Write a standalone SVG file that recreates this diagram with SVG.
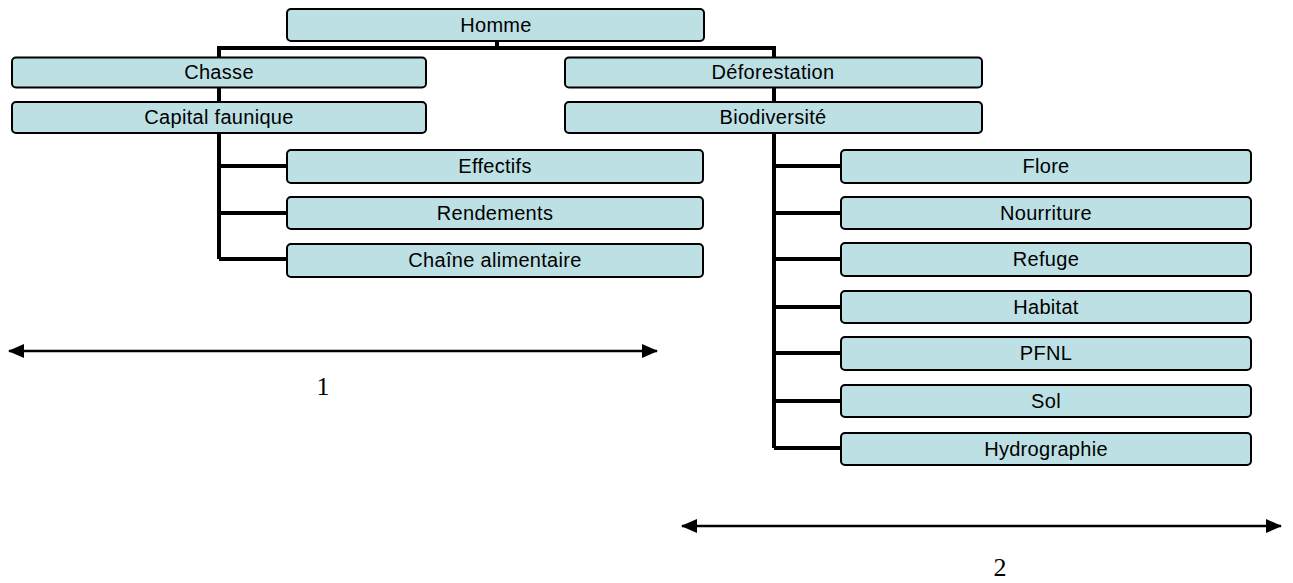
<svg xmlns="http://www.w3.org/2000/svg" width="1293" height="583" viewBox="0 0 1293 583">
<style>
.box{fill:#BCE0E4;stroke:#000;stroke-width:2}
.lbl{font-family:"Liberation Sans",Arial,sans-serif;font-size:20px;letter-spacing:0.3px;fill:#000;text-anchor:middle}
.con{stroke:#000;stroke-width:4;fill:none}
.arr{stroke:#000;stroke-width:2.5;fill:none}
.num{font-family:"Liberation Serif","Times New Roman",serif;font-size:26px;fill:#000;text-anchor:middle}
</style>
<defs>
<marker id="ah" viewBox="0 0 16 14" refX="15" refY="7" markerWidth="16" markerHeight="14" markerUnits="userSpaceOnUse" orient="auto-start-reverse">
<path d="M0,0 L16,7 L0,14 Z" fill="#000"/>
</marker>
</defs>
<g id="connectors">
<path class="con" d="M497,41 V48 M217,48 H776 M219,48 V259 M219,166 H288 M219,213 H288 M219,259 H288"/>
<path class="con" d="M774,48 V448 M774,166 H842 M774,213 H842 M774,259 H842 M774,307 H842 M774,353 H842 M774,401 H842 M774,448 H842"/>
<line class="arr" x1="9" y1="351" x2="657" y2="351" marker-start="url(#ah)" marker-end="url(#ah)"/>
<line class="arr" x1="682" y1="526" x2="1281" y2="526" marker-start="url(#ah)" marker-end="url(#ah)"/>
</g>
<g id="homme"><rect class="box" x="287" y="9" width="417" height="32" rx="4"/><text class="lbl" x="496" y="32">Homme</text></g>
<g id="chasse"><rect class="box" x="12" y="57.5" width="414" height="30" rx="4"/><text class="lbl" x="219" y="79">Chasse</text></g>
<g id="capital"><rect class="box" x="12" y="102" width="414" height="31" rx="4"/><text class="lbl" x="219" y="124">Capital faunique</text></g>
<g id="deforestation"><rect class="box" x="565" y="57.5" width="417" height="30" rx="4"/><text class="lbl" x="773" y="79">Déforestation</text></g>
<g id="biodiversite"><rect class="box" x="565" y="102" width="417" height="31" rx="4"/><text class="lbl" x="773" y="124">Biodiversité</text></g>
<g id="effectifs"><rect class="box" x="287" y="150" width="416" height="33" rx="4"/><text class="lbl" x="495" y="173">Effectifs</text></g>
<g id="rendements"><rect class="box" x="287" y="197" width="416" height="32" rx="4"/><text class="lbl" x="495" y="220">Rendements</text></g>
<g id="chaine"><rect class="box" x="287" y="244" width="416" height="33" rx="4"/><text class="lbl" x="495" y="267">Chaîne alimentaire</text></g>
<g id="flore"><rect class="box" x="841" y="150" width="410" height="33" rx="4"/><text class="lbl" x="1046" y="173">Flore</text></g>
<g id="nourriture"><rect class="box" x="841" y="197" width="410" height="32" rx="4"/><text class="lbl" x="1046" y="220">Nourriture</text></g>
<g id="refuge"><rect class="box" x="841" y="243" width="410" height="33" rx="4"/><text class="lbl" x="1046" y="266">Refuge</text></g>
<g id="habitat"><rect class="box" x="841" y="291" width="410" height="32" rx="4"/><text class="lbl" x="1046" y="314">Habitat</text></g>
<g id="pfnl"><rect class="box" x="841" y="337" width="410" height="33" rx="4"/><text class="lbl" x="1046" y="360">PFNL</text></g>
<g id="sol"><rect class="box" x="841" y="385" width="410" height="32" rx="4"/><text class="lbl" x="1046" y="408">Sol</text></g>
<g id="hydrographie"><rect class="box" x="841" y="433" width="410" height="32" rx="4"/><text class="lbl" x="1046" y="456">Hydrographie</text></g>
<text class="num" x="323" y="395">1</text>
<text class="num" x="1000" y="576">2</text>
</svg>
